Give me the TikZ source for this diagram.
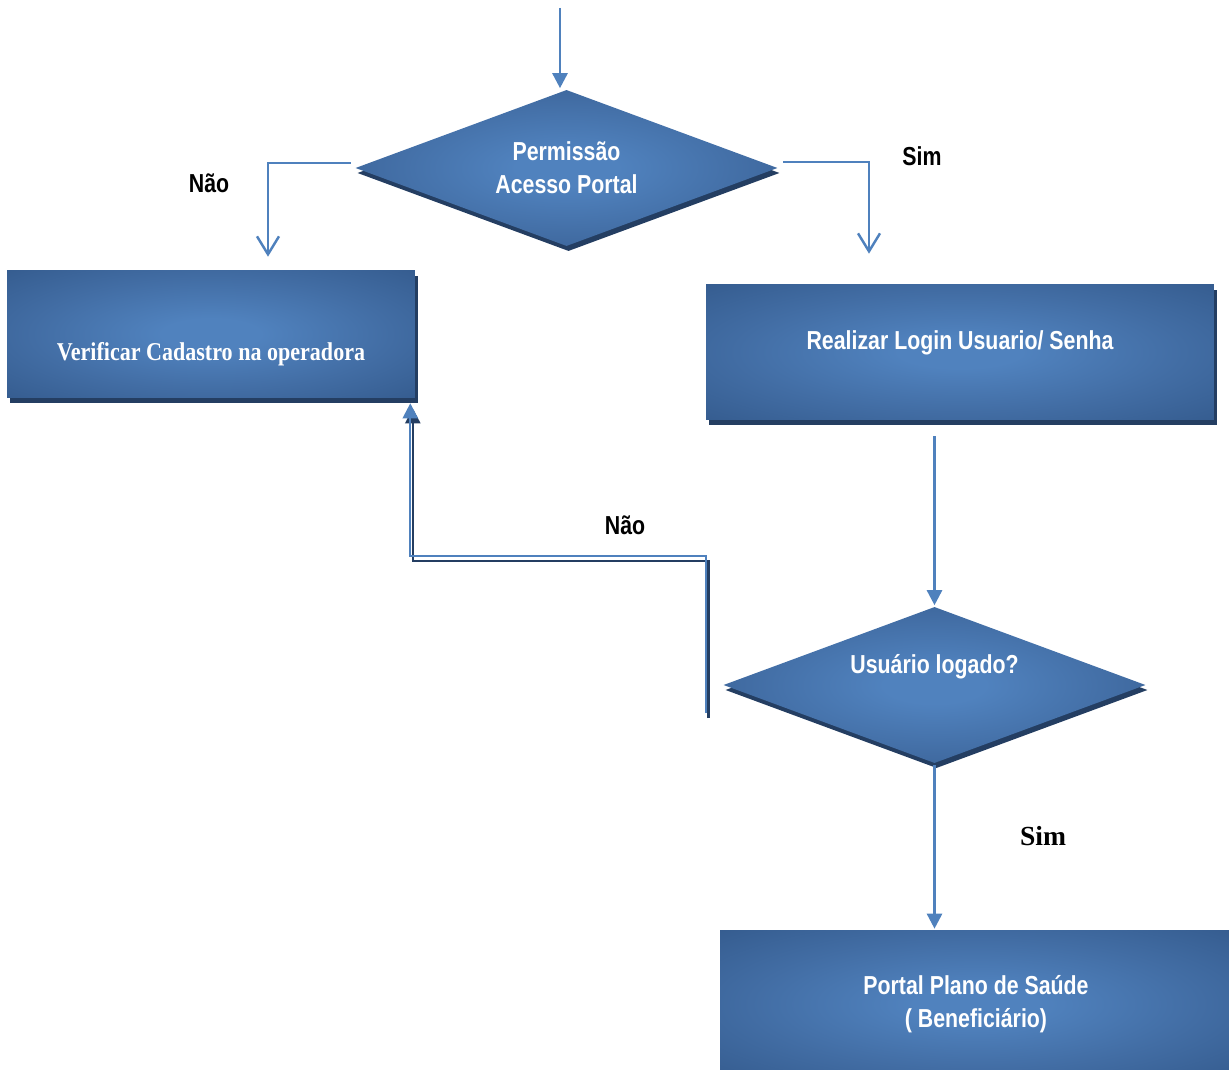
\documentclass[tikz,border=0pt]{standalone}
\usepackage{fontspec}
\setmainfont{Liberation Sans}
\newfontfamily\narrowsans[FakeStretch=0.82]{Liberation Sans}
\newfontfamily\narrowserif[FakeStretch=0.86]{Liberation Serif}
\newfontfamily\plainserif{Liberation Serif}
\usetikzlibrary{arrows.meta, positioning, calc, shapes.geometric, shadows}

\definecolor{flowlight}{RGB}{80,130,190}
\definecolor{flowmid}{RGB}{66,109,164}
\definecolor{flowdark}{RGB}{53,92,143}
\definecolor{flowshadow}{RGB}{36,62,98}
\definecolor{flowline}{RGB}{79,129,189}

\pgfdeclareradialshading{flowglow}{\pgfpoint{0bp}{0bp}}{color(0bp)=(flowlight); color(6bp)=(flowlight); color(22bp)=(flowmid); color(36bp)=(flowdark); color(50bp)=(flowdark)}

\newcommand\flowfont{\narrowsans\bfseries\fontsize{14.8}{19}\selectfont}
\newcommand\cadfont{\narrowserif\bfseries\fontsize{14.6}{18}\selectfont}

\begin{document}
\begin{tikzpicture}[
    x=0.02cm, y=-0.02cm,
    line width=1.5pt,
    decision/.style={diamond, shading=flowglow, inner sep=0pt, aspect=2.7,
                     minimum width=8.46cm, minimum height=3.14cm,
                     text=white, font=\flowfont,
                     general shadow={fill=flowshadow, shadow xshift=0.04cm, shadow yshift=-0.1cm}},
    process/.style={rectangle, shading=flowglow, text=white, font=\flowfont,
                    general shadow={fill=flowshadow, shadow xshift=0.06cm, shadow yshift=-0.11cm}},
    link/.style={draw=flowline, -{Triangle[width=0.3cm, length=0.3cm]}},
    branch/.style={draw=flowline, line width=1.4pt, -{Straight Barb[width=0.44cm, length=0.36cm]}},
    answer/.style={font=\flowfont, text=black}
]
\useasboundingbox (0,0) rectangle (1229,1070);

% 1) Decision: portal access.
\node[decision, align=center] (perm) at (566.5,168) {Permissão\\Acesso Portal};

% 2) Boxes for both branches.
\node[process, font=\cadfont, minimum width=8.16cm, minimum height=2.56cm,
      text height=1.16cm, text depth=0.1cm] (verif) at (211,334)
   {Verificar Cadastro na operadora};

\node[process, minimum width=10.16cm, minimum height=2.72cm,
      text height=0.37cm, text depth=0.47cm] (login) at (960,352)
   {Realizar Login Usuario/ Senha};

% 3) Decision: user logged in.
\node[decision, text height=0.37cm, text depth=0.83cm] (usr) at (934.5,685)
   {Usuário logado?};

% 4) Portal box (runs off the page).
\node[process, align=center, minimum width=10.24cm, minimum height=2.96cm] (portal)
   at (976,1004) {Portal Plano de Saúde\\( Beneficiário)};

% Arrows.
\coordinate (entry) at (560,8);
\draw[link] (entry) -- (entry |- perm.north);

\draw[branch] ([shift={(-3,-5)}]perm.west) -| ([shift={(57,-12)}]verif.north);
\draw[branch] ([shift={(4,-6)}]perm.east) -| ([shift={(-91,-29)}]login.north);

\draw[link] ([yshift=-0.3cm]login.south -| usr.north) -- (usr.north);
\draw[link] (usr.south) -- (usr.south |- portal.north);

% Back link "Não" (double line).
\coordinate (noback) at (706,713);
\coordinate (nobend) at (706,556);
\draw[draw=flowshadow, line width=1.3pt, -{Triangle[width=0.3cm, length=0.3cm]},
      transform canvas={xshift=0.05cm, yshift=-0.1cm}]
   (noback) -- (nobend) -| ([shift={(-6,4)}]verif.south east);
\draw[link, line width=1.3pt] (noback) -- (nobend) -| ([shift={(-6,4)}]verif.south east);

% Labels.
\node[answer] (no1) at (209,183) {Não};
\node[answer] (yes1) at (922,156) {Sim};
\node[answer] (no2) at (625,525) {Não};
\node[answer, font=\plainserif\bfseries\fontsize{15.7}{18}\selectfont] (yes2) at (1043,836) {Sim};

\end{tikzpicture}
\end{document}
